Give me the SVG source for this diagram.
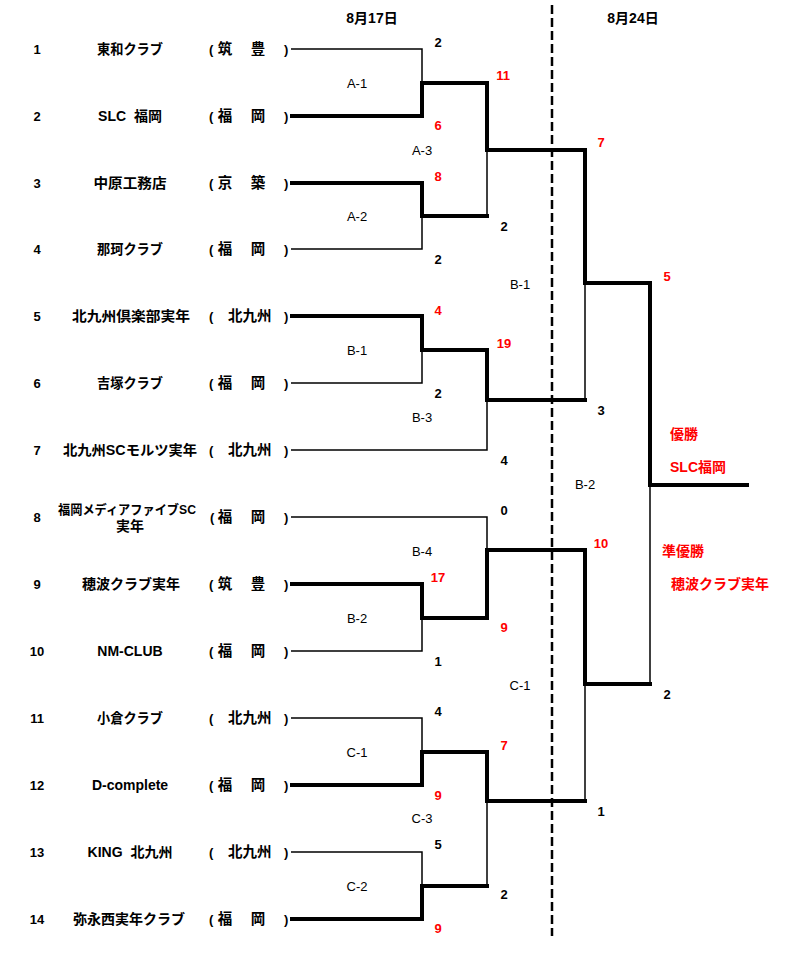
<svg xmlns="http://www.w3.org/2000/svg" width="800" height="955" viewBox="0 0 800 955">
<style>
text{font-family:"Liberation Sans","Noto Sans CJK JP",sans-serif;font-size:13px;font-weight:bold;fill:#000}
.c{text-anchor:middle}
.r{fill:#ff0000}
.g{font-weight:normal}
.n{font-size:14px}
.p{font-size:14.5px}
.big{font-size:14px}
.thin{fill:none;stroke:#000;stroke-width:1.5}
.thick{fill:none;stroke:#000;stroke-width:4;stroke-linejoin:miter;stroke-linecap:square}
</style>
<rect width="800" height="955" fill="#fff"/>
<g id="headers">
<text class="c big" x="372" y="23">8月17日</text>
<text class="c big" x="633" y="23">8月24日</text>
</g>
<line x1="552" y1="5" x2="552" y2="936" stroke="#000" stroke-width="2.5" stroke-dasharray="9,4"/>
<g id="connectors">
<path class="thin" d="M291,49H422V83"/>
<path class="thin" d="M291,249H422V216"/>
<path class="thin" d="M291,383H422V350"/>
<path class="thin" d="M291,450H487V400"/>
<path class="thin" d="M291,517H487V550"/>
<path class="thin" d="M291,651H422V618"/>
<path class="thin" d="M291,718H422V752"/>
<path class="thin" d="M291,852H422V886"/>
<path class="thin" d="M487,150V216"/>
<path class="thin" d="M585,283V400"/>
<path class="thin" d="M650,485V684"/>
<path class="thin" d="M585,684V801"/>
<path class="thin" d="M487,801V886"/>
<path class="thick" d="M292,116H422V83H487V150H585V283H650V485H747"/>
<path class="thick" d="M292,183H422V216H487"/>
<path class="thick" d="M292,316H422V350H487V400H585"/>
<path class="thick" d="M292,584H422V618H487V550H585V684H650"/>
<path class="thick" d="M292,785H422V752H487V801H585"/>
<path class="thick" d="M292,919H422V886H487"/>
</g>
<g id="team1"><text class="c" x="37" y="54">1</text><text class="c n" x="130" y="54" textLength="66" lengthAdjust="spacingAndGlyphs">東和クラブ</text><text x="209" y="54">(</text><text class="c p" x="225" y="54">筑</text><text class="c p" x="258" y="54">豊</text><text x="284" y="54">)</text></g>
<g id="team2"><text class="c" x="37" y="121">2</text><text class="c n" x="130" y="121">SLC&#160; 福岡</text><text x="209" y="121">(</text><text class="c p" x="225" y="121">福</text><text class="c p" x="258" y="121">岡</text><text x="284" y="121">)</text></g>
<g id="team3"><text class="c" x="37" y="188">3</text><text class="c n" x="130" y="188" textLength="73" lengthAdjust="spacingAndGlyphs">中原工務店</text><text x="209" y="188">(</text><text class="c p" x="225" y="188">京</text><text class="c p" x="258" y="188">築</text><text x="284" y="188">)</text></g>
<g id="team4"><text class="c" x="37" y="254">4</text><text class="c n" x="130" y="254" textLength="66" lengthAdjust="spacingAndGlyphs">那珂クラブ</text><text x="209" y="254">(</text><text class="c p" x="225" y="254">福</text><text class="c p" x="258" y="254">岡</text><text x="284" y="254">)</text></g>
<g id="team5"><text class="c" x="37" y="321">5</text><text class="c n" x="131" y="321" textLength="118" lengthAdjust="spacingAndGlyphs">北九州倶楽部実年</text><text x="209" y="321">(</text><text class="p" x="228" y="321">北九州</text><text x="284" y="321">)</text></g>
<g id="team6"><text class="c" x="37" y="388">6</text><text class="c n" x="130" y="388" textLength="66" lengthAdjust="spacingAndGlyphs">吉塚クラブ</text><text x="209" y="388">(</text><text class="c p" x="225" y="388">福</text><text class="c p" x="258" y="388">岡</text><text x="284" y="388">)</text></g>
<g id="team7"><text class="c" x="37" y="455">7</text><text class="c n" x="130" y="455" textLength="134" lengthAdjust="spacingAndGlyphs">北九州SCモルツ実年</text><text x="209" y="455">(</text><text class="p" x="228" y="455">北九州</text><text x="284" y="455">)</text></g>
<g id="team8"><text class="c" x="37" y="522">8</text><text class="c" x="127" y="514" textLength="138" lengthAdjust="spacingAndGlyphs">福岡メディアファイブSC</text><text class="c n" x="130" y="531">実年</text><text x="210" y="522">(</text><text class="c p" x="225" y="522">福</text><text class="c p" x="258" y="522">岡</text><text x="284" y="522">)</text></g>
<g id="team9"><text class="c" x="37" y="589">9</text><text class="c n" x="131" y="589" textLength="98" lengthAdjust="spacingAndGlyphs">穂波クラブ実年</text><text x="209" y="589">(</text><text class="c p" x="225" y="589">筑</text><text class="c p" x="258" y="589">豊</text><text x="284" y="589">)</text></g>
<g id="team10"><text class="c" x="37" y="656">10</text><text class="c n" x="130" y="656">NM-CLUB</text><text x="209" y="656">(</text><text class="c p" x="225" y="656">福</text><text class="c p" x="258" y="656">岡</text><text x="284" y="656">)</text></g>
<g id="team11"><text class="c" x="37" y="723">11</text><text class="c n" x="130" y="723" textLength="66" lengthAdjust="spacingAndGlyphs">小倉クラブ</text><text x="209" y="723">(</text><text class="p" x="228" y="723">北九州</text><text x="284" y="723">)</text></g>
<g id="team12"><text class="c" x="37" y="790">12</text><text class="c n" x="130" y="790">D-complete</text><text x="209" y="790">(</text><text class="c p" x="225" y="790">福</text><text class="c p" x="258" y="790">岡</text><text x="284" y="790">)</text></g>
<g id="team13"><text class="c" x="37" y="857">13</text><text class="c n" x="130" y="857">KING&#160; 北九州</text><text x="209" y="857">(</text><text class="p" x="228" y="857">北九州</text><text x="284" y="857">)</text></g>
<g id="team14"><text class="c" x="37" y="924">14</text><text class="c n" x="129" y="924" textLength="112" lengthAdjust="spacingAndGlyphs">弥永西実年クラブ</text><text x="209" y="924">(</text><text class="c p" x="225" y="924">福</text><text class="c p" x="258" y="924">岡</text><text x="284" y="924">)</text></g>
<g id="match-labels">
<text class="c g" x="357" y="88">A-1</text>
<text class="c g" x="357" y="221">A-2</text>
<text class="c g" x="357" y="355">B-1</text>
<text class="c g" x="357" y="623">B-2</text>
<text class="c g" x="357" y="757">C-1</text>
<text class="c g" x="357" y="891">C-2</text>
<text class="c g" x="422" y="155">A-3</text>
<text class="c g" x="422" y="422">B-3</text>
<text class="c g" x="422" y="556">B-4</text>
<text class="c g" x="422" y="823">C-3</text>
<text class="c g" x="520" y="289">B-1</text>
<text class="c g" x="520" y="690">C-1</text>
<text class="c g" x="585" y="489">B-2</text>
</g>
<g id="scores">
<text class="c" x="438" y="47">2</text>
<text class="c r" x="503" y="80">11</text>
<text class="c r" x="438" y="130">6</text>
<text class="c r" x="438" y="181">8</text>
<text class="c" x="504" y="231">2</text>
<text class="c" x="438" y="264">2</text>
<text class="c r" x="438" y="315">4</text>
<text class="c r" x="504" y="348">19</text>
<text class="c" x="438" y="398">2</text>
<text class="c" x="504" y="465">4</text>
<text class="c" x="504" y="515">0</text>
<text class="c r" x="438" y="582">17</text>
<text class="c r" x="504" y="632">9</text>
<text class="c" x="438" y="666">1</text>
<text class="c" x="438" y="716">4</text>
<text class="c r" x="504" y="750">7</text>
<text class="c r" x="438" y="800">9</text>
<text class="c" x="438" y="849">5</text>
<text class="c" x="504" y="899">2</text>
<text class="c r" x="438" y="933">9</text>
<text class="c r" x="601" y="147">7</text>
<text class="c" x="601" y="415">3</text>
<text class="c r" x="601" y="548">10</text>
<text class="c" x="601" y="816">1</text>
<text class="c r" x="667" y="281">5</text>
<text class="c" x="667" y="699">2</text>
</g>
<g id="results">
<text class="c r big" x="684" y="439">優勝</text>
<text class="c r big" x="698" y="472">SLC福岡</text>
<text class="c r big" x="683" y="556">準優勝</text>
<text class="c r big" x="720" y="589">穂波クラブ実年</text>
</g>
</svg>
